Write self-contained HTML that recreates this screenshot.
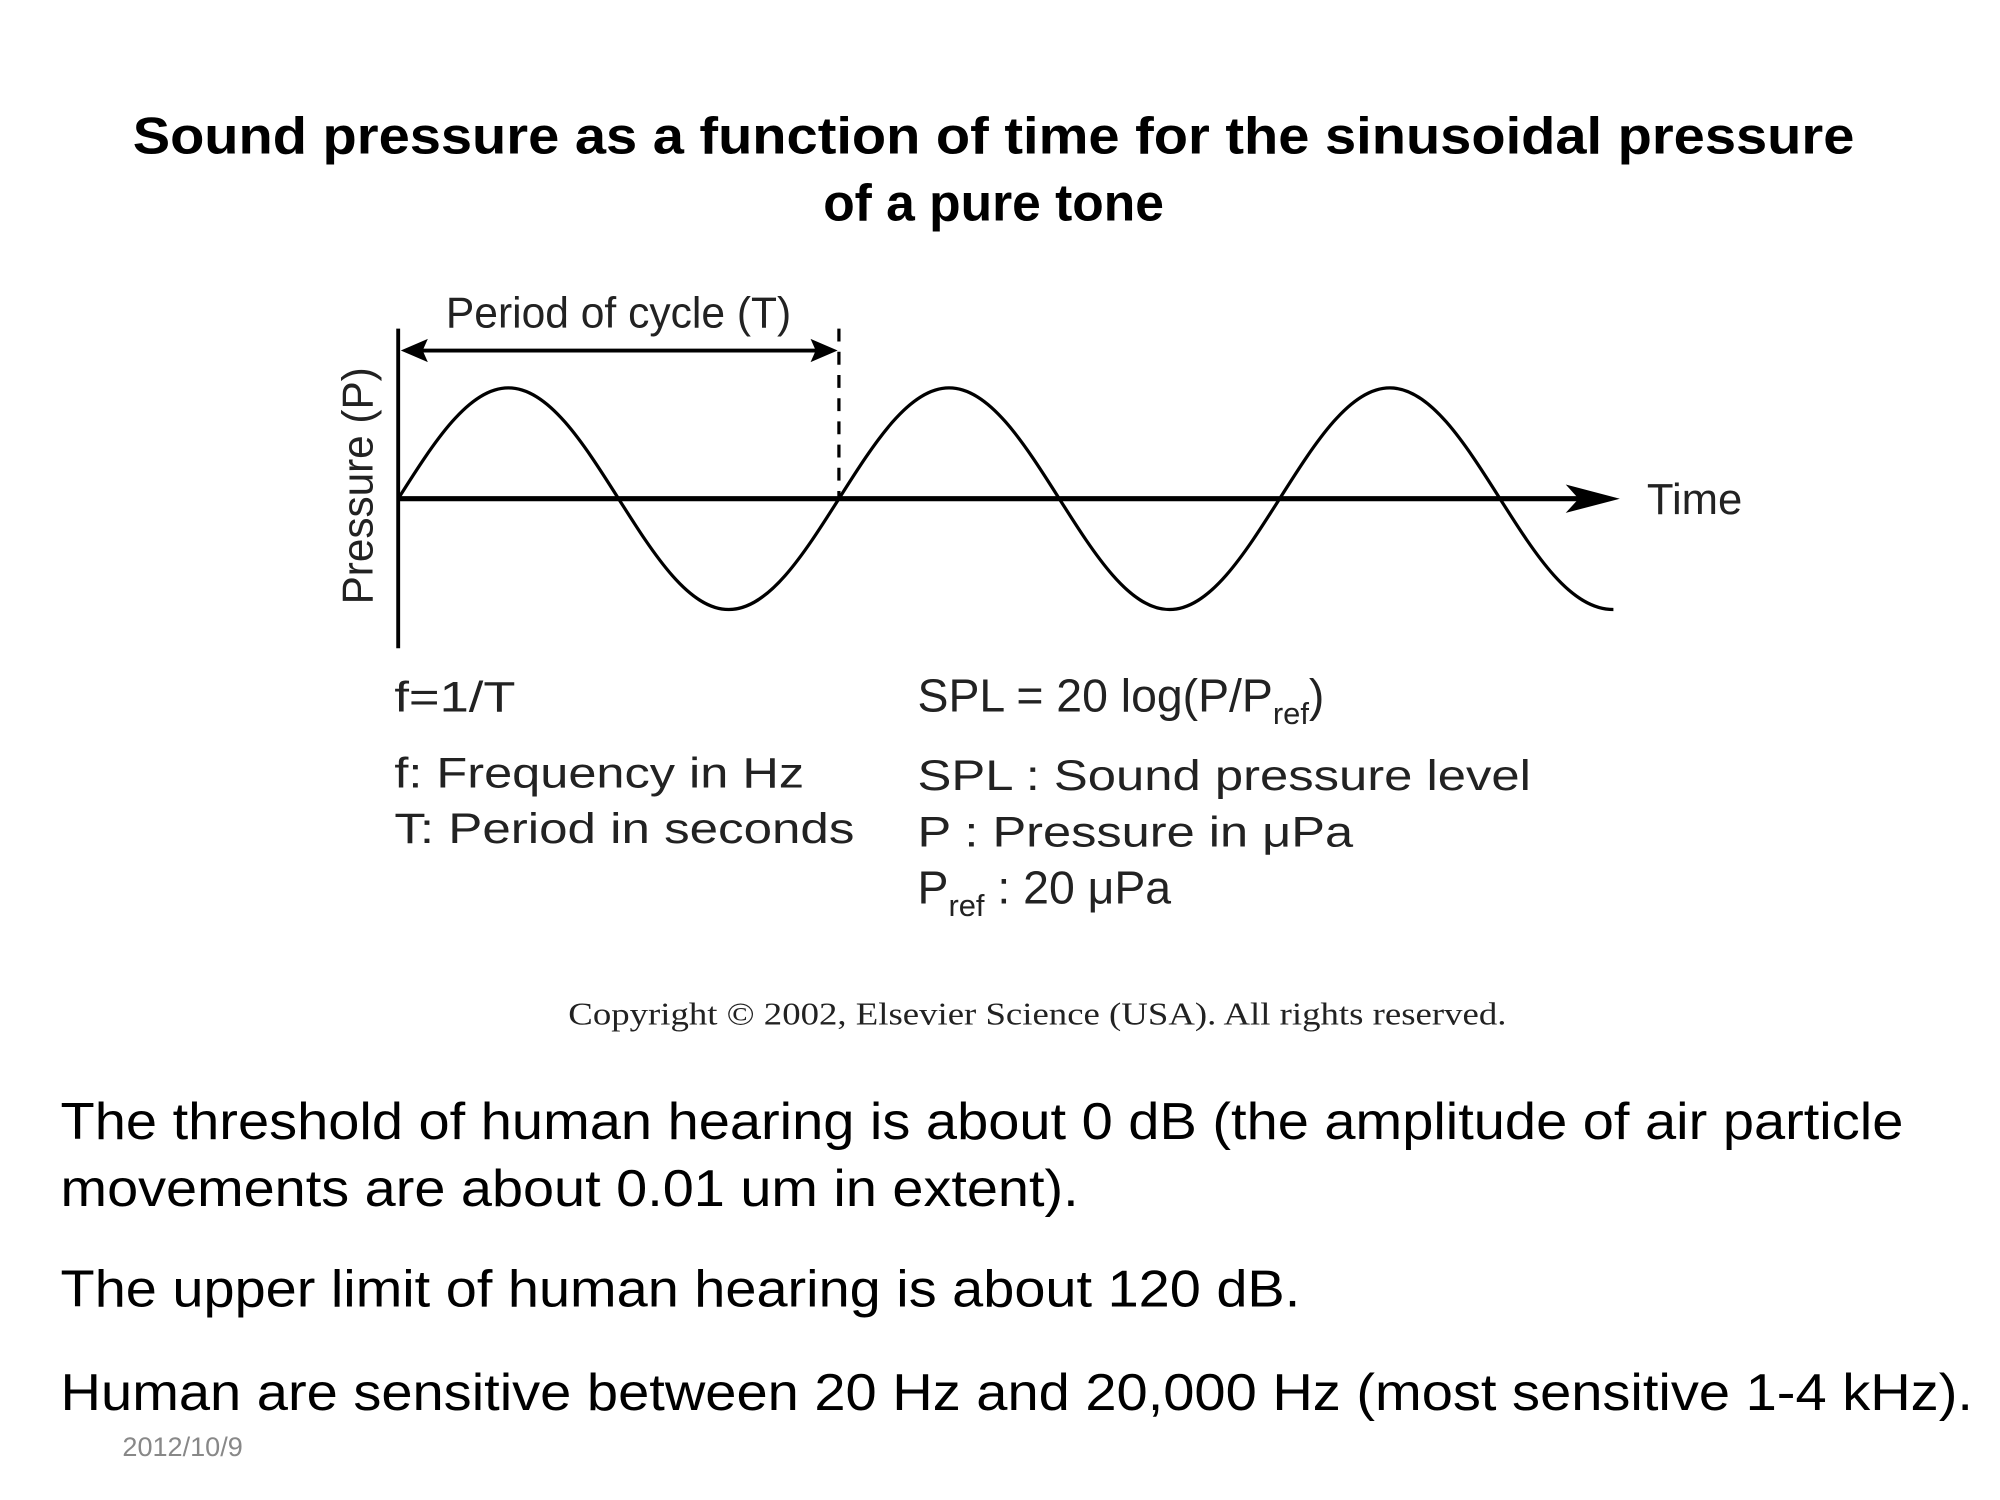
<!DOCTYPE html>
<html><head><meta charset="utf-8"><style>html,body{margin:0;padding:0;background:#fff}svg{display:block}</style></head>
<body>
<svg width="2000" height="1500" viewBox="0 0 1552 1164" xmlns="http://www.w3.org/2000/svg">
<rect width="1552" height="1164" fill="#fff"/>
<g font-family="Liberation Sans, sans-serif" fill="#000">
<text x="771" y="119" font-size="40" font-weight="bold" text-anchor="middle" textLength="1336" lengthAdjust="spacingAndGlyphs">Sound pressure as a function of time for the sinusoidal pressure</text>
<text x="771" y="171" font-size="40" font-weight="bold" text-anchor="middle">of a pure tone</text>
</g>
<g stroke="#000" fill="none">
<line x1="309" y1="255" x2="309" y2="503" stroke-width="3"/>
<line x1="309" y1="387" x2="1235" y2="387" stroke-width="4"/>
<line x1="651" y1="255" x2="651" y2="387" stroke-width="2.5" stroke-dasharray="10,8"/>
<line x1="325" y1="272" x2="636" y2="272" stroke-width="3"/>
<path d="M309,387 C336.9,342.9 363.6,301 394.5,301 C425.4,301 452.1,342.9 480,387 C507.9,431.1 534.6,473 565.5,473 C596.4,473 623.1,431.1 651,387
C678.9,342.9 705.6,301 736.5,301 C767.4,301 794.1,342.9 822,387 C849.9,431.1 876.6,473 907.5,473 C938.4,473 965.1,431.1 993,387
C1020.9,342.9 1047.6,301 1078.5,301 C1109.4,301 1136.1,342.9 1164,387 C1191.9,431.1 1218.6,473 1252,473" stroke-width="2.5"/>
</g>
<polygon points="1257,387 1215,376 1225,387 1215,398" fill="#000"/>
<polygon points="311,272 332,263 328,272 332,281" fill="#000"/>
<polygon points="650,272 629,263 633,272 629,281" fill="#000"/>
<g font-family="Liberation Sans, sans-serif" fill="#222">
<text x="346" y="254" font-size="34" textLength="268" lengthAdjust="spacingAndGlyphs">Period of cycle (T)</text>
<text x="1278" y="399" font-size="34" textLength="74" lengthAdjust="spacingAndGlyphs">Time</text>
<text transform="translate(289,469) rotate(-90)" font-size="34" textLength="184" lengthAdjust="spacingAndGlyphs">Pressure (P)</text>
<g font-size="33">
<text x="306" y="552" textLength="94" lengthAdjust="spacingAndGlyphs">f=1/T</text>
<text x="306" y="611" textLength="318" lengthAdjust="spacingAndGlyphs">f: Frequency in Hz</text>
<text x="306" y="654" textLength="357" lengthAdjust="spacingAndGlyphs">T: Period in seconds</text>
<text x="712" y="552" font-size="36">SPL = 20 log(P/P<tspan font-size="24" dy="10">ref</tspan><tspan dy="-10">)</tspan></text>
<text x="712" y="613" textLength="476" lengthAdjust="spacingAndGlyphs">SPL : Sound pressure level</text>
<text x="712" y="657" textLength="338" lengthAdjust="spacingAndGlyphs">P : Pressure in μPa</text>
<text x="712" y="701" font-size="36">P<tspan font-size="24" dy="10">ref</tspan><tspan dy="-10"> : 20 μPa</tspan></text>
</g>
</g>
<text x="805" y="795" font-family="Liberation Serif, serif" font-size="25" text-anchor="middle" fill="#222" textLength="728" lengthAdjust="spacingAndGlyphs">Copyright © 2002, Elsevier Science (USA). All rights reserved.</text>
<g font-family="Liberation Sans, sans-serif" font-size="40" fill="#000">
<text x="47" y="884" textLength="1430" lengthAdjust="spacingAndGlyphs">The threshold of human hearing is about 0 dB (the amplitude of air particle</text>
<text x="47" y="936" textLength="790" lengthAdjust="spacingAndGlyphs">movements are about 0.01 um in extent).</text>
<text x="47" y="1014" textLength="962" lengthAdjust="spacingAndGlyphs">The upper limit of human hearing is about 120 dB.</text>
<text x="47" y="1094" textLength="1484" lengthAdjust="spacingAndGlyphs">Human are sensitive between 20 Hz and 20,000 Hz (most sensitive 1-4 kHz).</text>
</g>
<text x="95" y="1130" font-family="Liberation Sans, sans-serif" font-size="21" fill="#888">2012/10/9</text>
</svg>
</body></html>
